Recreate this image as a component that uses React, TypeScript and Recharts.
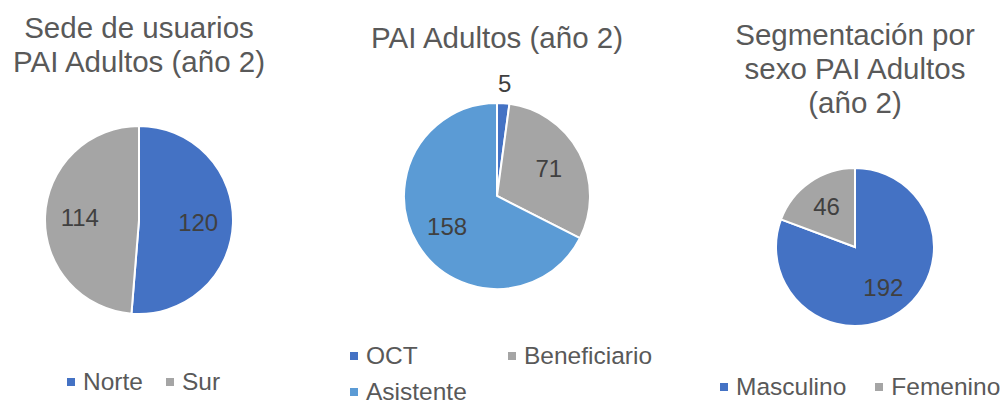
import { PieChart, Pie, Cell } from 'recharts'

const FONT = '"Liberation Sans", Arial, sans-serif'
const TITLE_COLOR = '#595959'
const LABEL_COLOR = '#404040'

const BLUE = '#4472C4'
const GRAY = '#A5A5A5'
const LIGHT_BLUE = '#5B9BD5'

// Sede de usuarios
const sedeNames = ['Norte', 'Sur']
const sedeValues = [120, 114]
const sedeColors = [BLUE, GRAY]

// PAI Adultos por tipo
const tipoNames = ['OCT', 'Beneficiario', 'Asistente']
const tipoValues = [5, 71, 158]
const tipoColors = [BLUE, GRAY, LIGHT_BLUE]

// Segmentación por sexo
const sexoNames = ['Masculino', 'Femenino']
const sexoValues = [192, 46]
const sexoColors = [BLUE, GRAY]

const RAD = Math.PI / 180

function renderLabel(props: any) {
  const { cx, cy, midAngle, outerRadius, percent, value } = props
  // tiny slices get their label pushed outside, like Excel's best fit
  const r = percent < 0.05 ? outerRadius + 20 : outerRadius * 0.63
  const x = cx + r * Math.cos(-midAngle * RAD)
  const y = cy + r * Math.sin(-midAngle * RAD)
  return (
    <text x={x} y={y} fill={LABEL_COLOR} fontSize={24} fontFamily={FONT}
      textAnchor="middle" dominantBaseline="central">
      {value}
    </text>
  )
}

interface PanelProps {
  left: number
  width: number
  title: string[]
  titleTop: number
  names: string[]
  values: number[]
  colors: string[]
  cx: number
  cy: number
  radius: number
  legendLeft: number
  legendTop: number
  legendGap: number
  legendColWidth?: number
}

function Panel(p: PanelProps) {
  const data = p.names.map((name, i) => ({ name, value: p.values[i] }))
  const legendStyle: React.CSSProperties = p.legendColWidth
    ? { display: 'grid', gridTemplateColumns: `${p.legendColWidth}px ${p.legendColWidth}px`, rowGap: p.legendGap }
    : { display: 'flex', columnGap: p.legendGap }

  return (
    <div style={{ position: 'absolute', left: p.left, top: 0, width: p.width, height: 402 }}>
      <div style={{
        position: 'absolute', left: p.cx - 200, width: 400, top: p.titleTop,
        textAlign: 'center', fontFamily: FONT, fontSize: 29.5, lineHeight: '34px', color: TITLE_COLOR,
      }}>
        {p.title.map(line => <div key={line}>{line}</div>)}
      </div>

      <PieChart width={p.width} height={402} margin={{ top: 0, right: 0, bottom: 0, left: 0 }}>
        <Pie data={data} dataKey="value" nameKey="name"
          cx={p.cx} cy={p.cy} outerRadius={p.radius}
          startAngle={90} endAngle={-270}
          stroke="#fff" strokeWidth={2}
          label={renderLabel} labelLine={false}
          isAnimationActive={false}>
          {data.map((d, i) => <Cell key={d.name} fill={p.colors[i]} />)}
        </Pie>
      </PieChart>

      <div style={{
        position: 'absolute', left: p.legendLeft, top: p.legendTop, ...legendStyle,
        fontFamily: FONT, fontSize: 24.5, lineHeight: '30px', color: TITLE_COLOR, whiteSpace: 'nowrap',
      }}>
        {p.names.map((name, i) => (
          <div key={name} style={{ display: 'flex', alignItems: 'center' }}>
            <span style={{ width: 8, height: 8, background: p.colors[i], marginRight: 8, flex: 'none' }} />
            <span>{name}</span>
          </div>
        ))}
      </div>
    </div>
  )
}

export default function App() {
  return (
    <div style={{ position: 'absolute', left: 0, top: 0, width: 1003, height: 402, background: '#fff', overflow: 'hidden' }}>
      <Panel left={0} width={330}
        title={['Sede de usuarios', 'PAI Adultos (año 2)']} titleTop={11}
        names={sedeNames} values={sedeValues} colors={sedeColors}
        cx={139} cy={220} radius={94}
        legendLeft={67} legendTop={367} legendGap={23} />
      <Panel left={330} width={333}
        title={['PAI Adultos (año 2)']} titleTop={21}
        names={tipoNames} values={tipoValues} colors={tipoColors}
        cx={167} cy={196} radius={93}
        legendLeft={20} legendTop={341} legendGap={6} legendColWidth={158} />
      <Panel left={663} width={340}
        title={['Segmentación por', 'sexo PAI Adultos', '(año 2)']} titleTop={18}
        names={sexoNames} values={sexoValues} colors={sexoColors}
        cx={192} cy={247} radius={79}
        legendLeft={57} legendTop={372} legendGap={29} />
    </div>
  )
}
